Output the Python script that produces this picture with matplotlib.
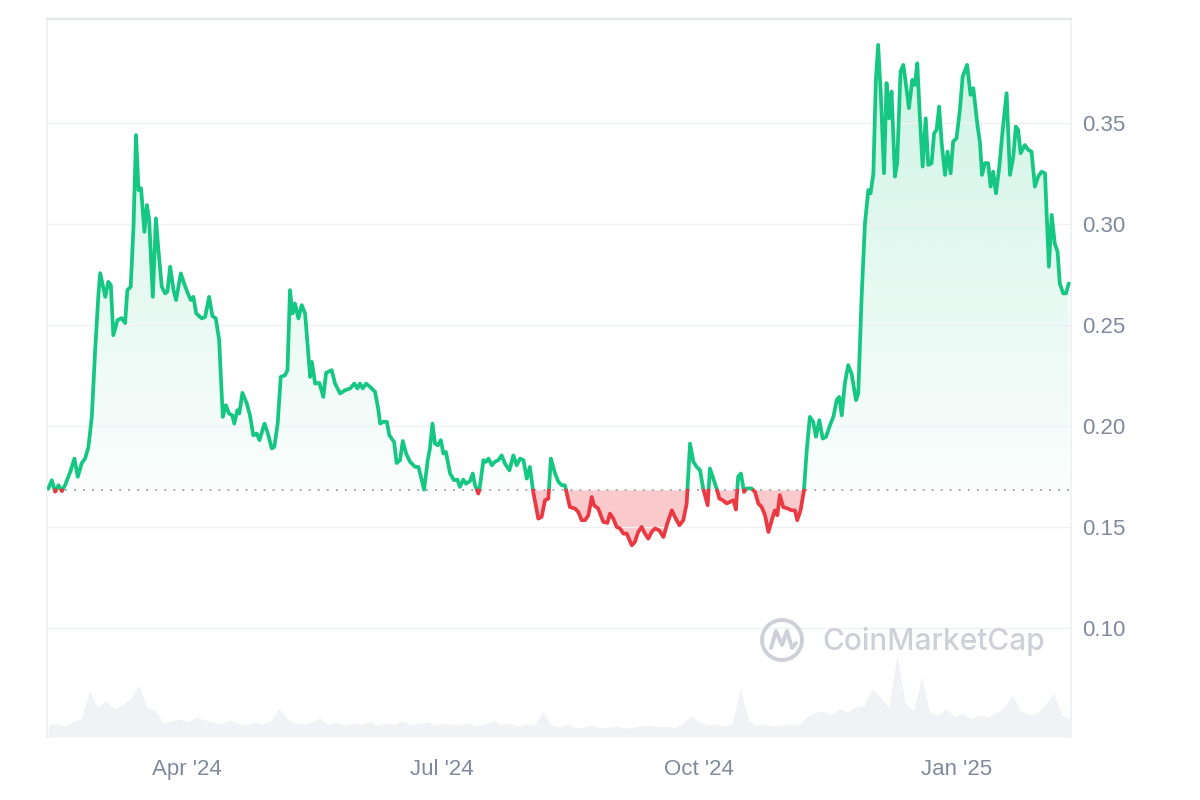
import numpy as np
import matplotlib
matplotlib.use("Agg")
import matplotlib.pyplot as plt
import matplotlib.dates as mdates
from matplotlib.patches import PathPatch, Ellipse
from matplotlib.path import Path
from matplotlib.lines import Line2D

# ---------------- data ----------------
START = np.datetime64("2024-02-11T12:00")
DAY_OFFSETS = [
    0.1, 1.3, 2.5, 3.7, 4.9, 6.1, 7.9, 9.4, 10.6, 12.0, 13.2, 14.4, 15.6, 16.8, 18.0, 18.6,
    20.4, 21.5, 22.4, 23.3, 24.8, 26.3, 27.5, 28.3, 29.5, 30.5, 31.4, 32.3, 33.2, 34.4, 35.3,
    36.1, 37.4, 38.5, 39.4, 40.6, 41.8, 42.6, 43.6, 44.8, 45.7, 47.4, 48.6, 49.9, 51.0, 51.9,
    52.9, 54.9, 56.1, 57.5, 58.7, 59.9, 61.1, 62.4, 63.5, 64.6, 65.8, 66.5, 67.6, 68.3, 69.4,
    71.0, 72.1, 73.3, 74.5, 75.5, 77.3, 78.5, 79.9, 80.8, 82.0, 83.1, 84.6, 85.5, 86.4, 87.3,
    88.2, 89.4, 90.6, 91.8, 93.6, 94.2, 95.4, 96.9, 98.3, 99.3, 101.3, 102.5, 104.3,
    106.1, 107.9, 109.4, 110.5, 111.4, 112.4, 113.6, 115.0, 116.8, 118.0, 118.6, 119.8, 121.0,
    121.9, 123.6, 124.5, 125.7, 126.7, 127.9, 129.3, 131.1, 132.3, 134.3, 135.6, 136.4, 137.3,
    138.2, 139.2, 140.3, 141.2, 142.1, 143.6, 145.0, 146.2, 147.1, 148.3, 149.3, 150.7, 151.7,
    152.5, 153.7, 154.3, 155.5, 156.4, 157.3, 158.5, 159.6, 160.8, 162.0, 163.2, 164.8, 166.2,
    167.4,
    168.6, 169.8, 171.0, 172.1, 173.3, 175.1, 176.3, 177.5, 178.7, 179.6, 181.1, 182.3, 183.5,
    184.6, 186.4, 188.2, 189.4, 190.6, 191.8, 193.0, 194.2, 195.0, 196.5, 198.3, 199.8, 200.7,
    201.9, 203.1, 204.3, 205.5, 206.7, 208.5, 209.6, 210.8, 212.0, 213.2, 214.4, 215.6, 216.8,
    218.3, 219.8, 221.2, 222.8, 223.9, 225.5, 226.9, 228.1, 229.3, 230.5, 231.7, 232.9, 234.0,
    235.6, 236.4, 237.4, 238.8, 239.8, 241.0, 242.4, 243.6, 244.8, 245.7, 246.5, 247.5, 248.6,
    249.5, 251.3, 252.5, 253.7, 254.9, 256.1, 257.3, 258.5, 259.6, 260.5, 261.4, 262.6, 264.2,
    265.6, 266.8, 267.6, 268.8, 270.0,
    271.0, 272.1, 273.3, 274.3, 275.5, 276.7, 277.9, 279.3, 280.5, 281.7, 282.6, 283.5, 284.6,
    285.8, 287.0, 288.6, 289.4, 290.6, 291.8, 293.0, 293.8, 294.8, 295.7, 296.5, 297.5, 298.6,
    299.5, 300.4, 301.3, 302.5, 303.3, 304.5, 305.5, 306.3, 307.5, 308.7, 309.6, 310.5, 311.4,
    312.4, 313.5, 314.4, 315.6, 316.5, 317.4, 318.3, 319.2, 320.4, 321.3, 322.4, 323.3, 324.5,
    325.7, 326.7, 328.3, 329.5, 330.5, 331.9, 332.9, 333.6, 334.6, 335.8, 336.7, 337.6, 338.6,
    339.8, 341.0, 342.4, 343.6, 344.8, 345.7, 346.5, 347.4, 348.9, 350.1, 351.3, 352.5, 353.7,
    354.9, 356.1, 357.5, 358.5, 359.6, 360.6, 361.4, 362.6, 363.6, 364.6,
]
PRICES = [
    0.1692, 0.1733, 0.1676, 0.1708, 0.1679, 0.1710, 0.1774, 0.1840, 0.1750, 0.1817, 0.1840,
    0.1897, 0.2046, 0.2376, 0.2658, 0.2757,
    0.2640, 0.2714, 0.2698, 0.2450, 0.2525, 0.2535, 0.2510, 0.2673, 0.2690, 0.2987, 0.3440,
    0.3168, 0.3177, 0.2962, 0.3094,
    0.3020, 0.2640, 0.3028, 0.2871, 0.2690, 0.2657, 0.2665, 0.2789, 0.2673, 0.2624, 0.2756,
    0.2706, 0.2657, 0.2624, 0.2640,
    0.2558, 0.2533, 0.2541, 0.2640, 0.2545, 0.2533, 0.2426, 0.2046, 0.2104, 0.2063, 0.2054,
    0.2013, 0.2079, 0.2063, 0.2165,
    0.2112, 0.2054, 0.1955, 0.1964, 0.1931, 0.2013, 0.1964, 0.1890, 0.1898, 0.2013, 0.2244,
    0.2252, 0.2277, 0.2673, 0.2558,
    0.2607, 0.2533, 0.2599, 0.2558, 0.2244, 0.2318, 0.2211, 0.2214, 0.2145, 0.2264, 0.2277,
    0.2211, 0.2162,
    0.2178, 0.2187, 0.2211, 0.2187, 0.2211, 0.2187, 0.2211, 0.2195, 0.2170, 0.2079, 0.2013,
    0.2022, 0.2022,
    0.1955, 0.1922, 0.1818, 0.1832, 0.1927, 0.1865, 0.1824, 0.1799, 0.1799, 0.1686, 0.1832,
    0.1890, 0.2013,
    0.1914, 0.1906, 0.1931, 0.1865, 0.1873, 0.1766, 0.1733, 0.1736, 0.1700, 0.1736, 0.1716,
    0.1729, 0.1766,
    0.1708, 0.1667, 0.1708, 0.1832, 0.1824, 0.1840, 0.1807, 0.1824, 0.1832, 0.1856, 0.1815,
    0.1782, 0.1856,
    0.1807,
    0.1840, 0.1832, 0.1741, 0.1799, 0.1675, 0.1543, 0.1552, 0.1634, 0.1642, 0.1840, 0.1766,
    0.1725, 0.1708,
    0.1708, 0.1600, 0.1593, 0.1576, 0.1535, 0.1535, 0.1560, 0.1650, 0.1609, 0.1593, 0.1527,
    0.1522, 0.1568,
    0.1543, 0.1502, 0.1494, 0.1469, 0.1469, 0.1411, 0.1427, 0.1477, 0.1502, 0.1469, 0.1444,
    0.1477, 0.1494,
    0.1485, 0.1452, 0.1519, 0.1584, 0.1552, 0.1510, 0.1535, 0.1618, 0.1914, 0.1824, 0.1799,
    0.1782, 0.1692,
    0.1609, 0.1791, 0.1750, 0.1692, 0.1642, 0.1634, 0.1618, 0.1626, 0.1634, 0.1588, 0.1750,
    0.1766, 0.1675,
    0.1692, 0.1692, 0.1675, 0.1618, 0.1600, 0.1560, 0.1477, 0.1535, 0.1584, 0.1560, 0.1659,
    0.1600, 0.1593,
    0.1584, 0.1584, 0.1535, 0.1584, 0.1683,
    0.1881, 0.2046, 0.2022, 0.1948, 0.2030, 0.1939, 0.1948, 0.2005, 0.2046, 0.2129, 0.2145,
    0.2054, 0.2211,
    0.2302, 0.2261, 0.2129, 0.2162, 0.2640, 0.3004, 0.3168, 0.3152, 0.3251, 0.3713, 0.3886,
    0.3630, 0.3251,
    0.3697, 0.3523, 0.3655, 0.3235, 0.3301, 0.3754, 0.3787, 0.3705, 0.3573, 0.3713, 0.3688,
    0.3795, 0.3532,
    0.3284, 0.3523, 0.3292, 0.3301, 0.3449, 0.3466, 0.3581, 0.3400, 0.3243, 0.3358, 0.3251,
    0.3408, 0.3424,
    0.3564, 0.3729, 0.3787, 0.3639, 0.3672, 0.3498, 0.3400, 0.3243, 0.3301, 0.3301, 0.3185,
    0.3259, 0.3152,
    0.3284, 0.3466, 0.3647, 0.3243, 0.3334, 0.3482, 0.3466, 0.3350, 0.3391, 0.3367, 0.3358,
    0.3185, 0.3235,
    0.3259, 0.3251, 0.2789, 0.3045, 0.2904, 0.2863, 0.2706, 0.2657, 0.2657, 0.2706,
]
BASELINE = 0.1683

VOL_STEP_DAYS = 2.944
VOLUME_M = [
    12, 14, 11, 15, 18, 46, 30, 36, 28, 32, 38, 52, 30, 26, 14, 16, 18, 15, 20, 17,
    15, 13, 17, 14, 12, 15, 13, 16, 28, 18, 14, 13, 15, 19, 13, 15, 12, 14, 13, 15,
    12, 14, 13, 16, 12, 14, 15, 12, 14, 13, 12, 14, 11, 13, 16, 12, 14, 11, 13, 12,
    26, 12, 10, 13, 9, 10, 12, 9, 10, 11, 9, 10, 11, 12, 10, 11, 9, 13, 22, 15,
    12, 13, 11, 14, 48, 16, 12, 13, 11, 12, 13, 12, 20, 24, 26, 22, 28, 25, 30, 32,
    48, 40, 30, 82, 34, 26, 60, 24, 22, 28, 20, 24, 18, 22, 20, 24, 30, 42, 26, 22,
    24, 32, 44, 22, 18,
]

Y_TICKS = [0.10, 0.15, 0.20, 0.25, 0.30, 0.35]
X_TICK_DATES = ["2024-04-01", "2024-07-01", "2024-10-01", "2025-01-01"]
X_TICK_LABELS = ["Apr '24", "Jul '24", "Oct '24", "Jan '25"]
WATERMARK = "CoinMarketCap"

# ---------------- style ----------------
GREEN = "#16c784"
RED = "#ea3943"
TXT = "#808a9d"
plt.rcParams["font.family"] = ["Liberation Sans", "DejaVu Sans"]

fig = plt.figure(figsize=(12, 8), dpi=100)
fig.patch.set_facecolor("white")
pos = [47 / 1200, 1 - 737 / 800, (1071 - 47) / 1200, (737 - 19) / 800]

axv = fig.add_axes(pos, zorder=0)
ax = fig.add_axes(pos, zorder=1, sharex=axv)
ax.patch.set_visible(False)

start_num = mdates.date2num(START)
x = start_num + np.array(DAY_OFFSETS)
y = np.array(PRICES)

# insert baseline crossings
xs, ys = [x[0]], [y[0]]
for i in range(1, len(x)):
    a, b = y[i - 1] - BASELINE, y[i] - BASELINE
    if a * b < 0:
        t = a / (a - b)
        xs.append(x[i - 1] + t * (x[i] - x[i - 1]))
        ys.append(BASELINE)
    xs.append(x[i])
    ys.append(y[i])
xs, ys = np.array(xs), np.array(ys)

xlim = (start_num - 0.4, start_num + 365.4)
ylim = (0.0463, 0.4014)

# volume
vx = start_num + np.arange(len(VOLUME_M)) * VOL_STEP_DAYS
axv.fill_between(vx, 0, VOLUME_M, color="#f0f2f6", lw=0)
axv.set_ylim(0, 718)
axv.set_yticks([])
for s in axv.spines.values():
    s.set_visible(False)
axv.tick_params(axis="x", bottom=False, labelbottom=False)

# green gradient fill
poly_g = ax.fill_between(xs, ys, BASELINE, where=ys >= BASELINE, color="none", lw=0)
paths = poly_g.get_paths()
if paths:
    comp = Path.make_compound_path(*paths)
    patch = PathPatch(comp, facecolor="none", edgecolor="none", transform=ax.transData)
    ax.add_patch(patch)
    ymax = ys.max()
    n = 256
    alpha = np.linspace(0.21, 0.02, n)[:, None]
    img = np.zeros((n, 2, 4))
    img[..., 0] = 22 / 255
    img[..., 1] = 199 / 255
    img[..., 2] = 132 / 255
    img[..., 3] = alpha
    im = ax.imshow(img, extent=[xlim[0], xlim[1], BASELINE, ymax], aspect="auto",
                   origin="upper", zorder=1, interpolation="bilinear")
    im.set_clip_path(patch)

# red fill
ax.fill_between(xs, ys, BASELINE, where=ys <= BASELINE, color=RED, alpha=0.27, lw=0, zorder=1)

# baseline dotted
ax.axhline(BASELINE, color="#9aa0ad", lw=1.3, ls=(0, (1, 4)), zorder=2)

# lines
g = np.where(ys >= BASELINE, ys, np.nan)
r = np.where(ys <= BASELINE, ys, np.nan)
ax.plot(xs, g, color=GREEN, lw=2.7, zorder=3, solid_joinstyle="round", solid_capstyle="round")
ax.plot(xs, r, color=RED, lw=2.7, zorder=3, solid_joinstyle="round", solid_capstyle="round")

ax.set_xlim(*xlim)
ax.set_ylim(*ylim)
ax.yaxis.tick_right()
ax.set_yticks(Y_TICKS)
ax.set_yticklabels([f"{v:.2f}" for v in Y_TICKS])
ax.set_xticks(mdates.date2num(np.array(X_TICK_DATES, dtype="datetime64[D]")))
ax.set_xticklabels(X_TICK_LABELS)
ax.tick_params(axis="y", length=0, pad=8, labelsize=16, labelcolor=TXT)
ax.tick_params(axis="x", length=0, pad=16, labelsize=16, labelcolor=TXT)
ax.grid(axis="y", color="#eff1f4", lw=1.0, zorder=0)
ax.grid(axis="x", visible=False)
for side, s in ax.spines.items():
    s.set_color("#eef0f3")
    s.set_linewidth(1.2)
ax.spines["top"].set_color("#e3e5e8")
ax.spines["top"].set_linewidth(1.6)
ax.spines["bottom"].set_visible(False)

# watermark
WM = "#cdd0d7"
fig.text(822 / 1200, 1 - 642 / 800, WATERMARK, fontsize=21.5, color=WM, family=["Inter", "DejaVu Sans"],
         weight="medium", va="center", ha="left", zorder=5)
fig.add_artist(Ellipse((782 / 1200, 1 - 640 / 800), 40 / 1200, 40 / 800, fill=False,
                       ec=WM, lw=2.8, transform=fig.transFigure, zorder=5))
mx = np.array([-11, -6, 0, 5, 10, 14]) + 782
my = np.array([8, -9, 5, -9, 8, 3]) + 640
fig.add_artist(Line2D(mx / 1200, 1 - my / 800, color=WM, lw=2.8, transform=fig.transFigure,
                      solid_joinstyle="round", solid_capstyle="round", zorder=5))

fig.savefig("out.png", dpi=100, facecolor="white")
